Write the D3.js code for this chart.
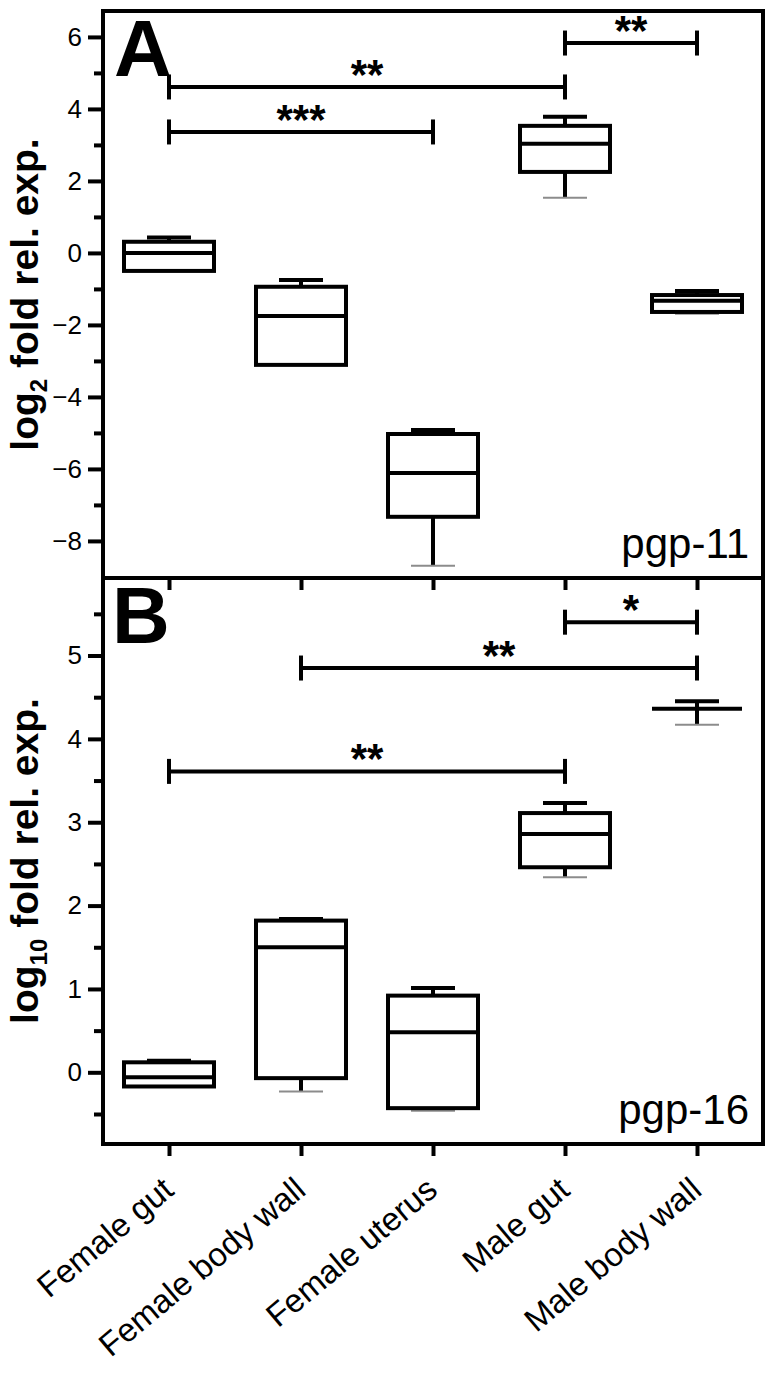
<!DOCTYPE html>
<html>
<head>
<meta charset="utf-8">
<script src="https://cdn.jsdelivr.net/npm/d3@7"></script>
<style>
  html, body { margin: 0; padding: 0; background: #fff; }
  svg { display: block; }
  text { font-family: "Liberation Sans", Arial, Helvetica, sans-serif; fill: #000; }
</style>
</head>
<body>
<svg id="chart" width="774" height="1377"></svg>
<script>
// ---------------- DATA ----------------
const categories = ["Female gut", "Female body wall", "Female uterus", "Male gut", "Male body wall"];

// box stats per category: [min, q1, median, q3, max]
const pgp11Min    = [-0.50, -3.11, -8.69, 1.53, -1.69];
const pgp11Q1     = [-0.50, -3.11, -7.33, 2.25, -1.64];
const pgp11Median = [ 0.00, -1.75, -6.11, 3.03, -1.33];
const pgp11Q3     = [ 0.31, -0.94, -5.03, 3.53, -1.17];
const pgp11Max    = [ 0.43, -0.75, -4.92, 3.78, -1.06];

const pgp16Min    = [-0.17, -0.23, -0.46, 2.34, 4.17];
const pgp16Q1     = [-0.17, -0.07, -0.43, 2.46, 4.36];
const pgp16Median = [-0.06,  1.50,  0.48, 2.86, 4.36];
const pgp16Q3     = [ 0.12,  1.82,  0.92, 3.11, 4.36];
const pgp16Max    = [ 0.14,  1.84,  1.01, 3.23, 4.45];

// significance brackets: [fromCategoryIndex, toCategoryIndex, yValue, label]
const sigFrom11  = [0, 0, 3];
const sigTo11    = [3, 2, 4];
const sigY11     = [4.61, 3.36, 5.83];
const sigLab11   = ["**", "***", "**"];

const sigFrom16  = [3, 1, 0];
const sigTo16    = [4, 4, 3];
const sigY16     = [5.40, 4.85, 3.61];
const sigLab16   = ["*", "**", "**"];

// axis ticks
const majorTicks11 = [-8, -6, -4, -2, 0, 2, 4, 6];
const minorTicks11 = [-7, -5, -3, -1, 1, 3, 5];
const majorTicks16 = [0, 1, 2, 3, 4, 5];
const minorTicks16 = [-0.5, 0.5, 1.5, 2.5, 3.5, 4.5, 5.5];

const domain11 = [-9.03, 6.72];
const domain16 = [-0.86, 5.93];

// ---------------- LAYOUT ----------------
const svg = d3.select("#chart");
const left = 103, right = 763;
const panelA = { top: 11, bottom: 578 };
const panelB = { top: 578, bottom: 1144 };
const boxW = 90, capW = 44, lw = 4;

const x = d3.scalePoint().domain(categories).range([left, right]).padding(0.5);
const yA = d3.scaleLinear().domain(domain11).range([panelA.bottom, panelA.top]);
const yB = d3.scaleLinear().domain(domain16).range([panelB.bottom, panelB.top]);

function buildBoxes(mins, q1s, meds, q3s, maxs) {
  return categories.map((c, i) => ({ cat: c, min: mins[i], q1: q1s[i], med: meds[i], q3: q3s[i], max: maxs[i] }));
}
function buildSigs(from, to, ys, labs) {
  return from.map((f, i) => ({ from: categories[f], to: categories[to[i]], y: ys[i], label: labs[i] }));
}

function drawPanel(y, panel, boxes, sigs, major, minor, titleSub, letter, gene, showLabels) {
  const g = svg.append("g");

  // y axis ticks (major + minor)
  const axMajor = d3.axisLeft(y).tickValues(major).tickSize(15).tickPadding(6).tickFormat(d3.format("d"));
  const gm = g.append("g").attr("transform", `translate(${left},0)`).call(axMajor);
  gm.select(".domain").remove();
  gm.selectAll("line").attr("stroke", "#000").attr("stroke-width", lw);
  gm.selectAll("text").style("font-size", "26px").attr("fill", "#000");

  const axMinor = d3.axisLeft(y).tickValues(minor).tickSize(9).tickFormat("");
  const gn = g.append("g").attr("transform", `translate(${left},0)`).call(axMinor);
  gn.select(".domain").remove();
  gn.selectAll("line").attr("stroke", "#000").attr("stroke-width", lw);

  // x axis ticks
  const axX = d3.axisBottom(x).tickSize(12).tickPadding(0);
  const gx = g.append("g").attr("transform", `translate(0,${panel.bottom})`).call(axX);
  gx.select(".domain").remove();
  gx.selectAll("line").attr("stroke", "#000").attr("stroke-width", lw);
  if (showLabels) {
    gx.selectAll("text")
      .attr("y", 0).attr("dy", 0).attr("x", 0)
      .attr("transform", "translate(6,49) rotate(-40)")
      .attr("text-anchor", "end")
      .style("font-size", "33px")
      .attr("fill", "#000");
  } else {
    gx.selectAll("text").remove();
  }

  // boxes
  const bg = g.append("g").attr("fill", "none").attr("stroke", "#000").attr("stroke-width", lw);
  boxes.forEach(b => {
    const cx = x(b.cat);
    // lower whisker
    if (b.min < b.q1) {
      bg.append("line").attr("x1", cx).attr("x2", cx).attr("y1", y(b.q1)).attr("y2", y(b.min));
      bg.append("line").attr("x1", cx - capW / 2).attr("x2", cx + capW / 2)
        .attr("y1", y(b.min)).attr("y2", y(b.min))
        .attr("stroke", "#8c8c8c").attr("stroke-width", 2);
    }
    // upper whisker
    if (b.max > b.q3) {
      bg.append("line").attr("x1", cx).attr("x2", cx).attr("y1", y(b.q3)).attr("y2", y(b.max));
      bg.append("line").attr("x1", cx - capW / 2).attr("x2", cx + capW / 2)
        .attr("y1", y(b.max)).attr("y2", y(b.max));
    }
    bg.append("rect").attr("x", cx - boxW / 2).attr("width", boxW)
      .attr("y", y(b.q3)).attr("height", Math.max(0, y(b.q1) - y(b.q3)))
      .attr("fill", "#fff");
    bg.append("line").attr("x1", cx - boxW / 2).attr("x2", cx + boxW / 2)
      .attr("y1", y(b.med)).attr("y2", y(b.med));
  });

  // significance brackets
  const sg = g.append("g");
  sigs.forEach(s => {
    const x1 = x(s.from), x2 = x(s.to), yy = y(s.y);
    sg.append("line").attr("x1", x1).attr("x2", x2).attr("y1", yy).attr("y2", yy)
      .attr("stroke", "#000").attr("stroke-width", lw);
    [x1, x2].forEach(xx => sg.append("line").attr("x1", xx).attr("x2", xx)
      .attr("y1", yy - 12.5).attr("y2", yy + 12.5).attr("stroke", "#000").attr("stroke-width", lw));
    sg.append("text").attr("x", (x1 + x2) / 2).attr("y", yy + 2)
      .attr("text-anchor", "middle").style("font-size", "42px").style("font-weight", "bold")
      .text(s.label);
  });

  // panel letter
  g.append("text").attr("x", letter === "A" ? 114 : 112).attr("y", panel.top + 65)
    .style("font-size", "80px").style("font-weight", "bold").text(letter);

  // gene label
  g.append("text").attr("x", 749).attr("y", panel.bottom - 20)
    .attr("text-anchor", "end").style("font-size", "42px").text(gene);

  // y title
  const cy = (panel.top + panel.bottom) / 2;
  const t = g.append("text")
    .attr("transform", `translate(38,${cy}) rotate(-90)`)
    .attr("text-anchor", "middle")
    .style("font-size", "39px").style("font-weight", "bold");
  t.append("tspan").text("log");
  t.append("tspan").attr("dy", 9).style("font-size", "24px").text(titleSub);
  t.append("tspan").attr("dy", -9).text(" fold rel. exp.");
}

drawPanel(yA, panelA, buildBoxes(pgp11Min, pgp11Q1, pgp11Median, pgp11Q3, pgp11Max),
  buildSigs(sigFrom11, sigTo11, sigY11, sigLab11), majorTicks11, minorTicks11, "2", "A", "pgp-11", false);
drawPanel(yB, panelB, buildBoxes(pgp16Min, pgp16Q1, pgp16Median, pgp16Q3, pgp16Max),
  buildSigs(sigFrom16, sigTo16, sigY16, sigLab16), majorTicks16, minorTicks16, "10", "B", "pgp-16", true);

// frames
const fr = svg.append("g").attr("fill", "none").attr("stroke", "#000").attr("stroke-width", lw);
fr.append("rect").attr("x", left).attr("y", panelA.top).attr("width", right - left).attr("height", panelA.bottom - panelA.top);
fr.append("path").attr("d", d3.line()([[left, panelB.top], [left, panelB.bottom], [right, panelB.bottom], [right, panelB.top]]));
</script>
</body>
</html>
